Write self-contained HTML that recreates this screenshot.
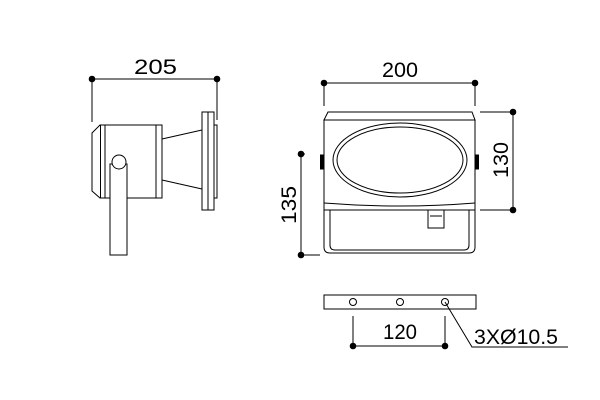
<!DOCTYPE html>
<html><head><style>body{margin:0;background:#fff}svg{display:block}</style></head><body>
<svg width="600" height="400" viewBox="0 0 600 400" xmlns="http://www.w3.org/2000/svg" fill="none" stroke="#000" stroke-width="1">
<g font-family="Liberation Sans, sans-serif" font-size="21" fill="#000" stroke="none" lengthAdjust="spacingAndGlyphs">
<text x="134" y="74" textLength="43" lengthAdjust="spacingAndGlyphs">205</text>
<text x="382" y="77" textLength="36" lengthAdjust="spacingAndGlyphs">200</text>
<text x="383" y="339" textLength="34" lengthAdjust="spacingAndGlyphs">120</text>
<text x="474" y="344" textLength="84" lengthAdjust="spacingAndGlyphs">3XØ10.5</text>
<text transform="translate(508,178) rotate(-90)" textLength="36" lengthAdjust="spacingAndGlyphs">130</text>
<text transform="translate(296,224) rotate(-90)" textLength="38" lengthAdjust="spacingAndGlyphs">135</text>
</g>
<g fill="#000" stroke="none">
<circle cx="92" cy="79" r="3.3"/><circle cx="217" cy="79" r="3.3"/>
<circle cx="324" cy="83" r="3.3"/><circle cx="475" cy="83" r="3.3"/>
<circle cx="513" cy="112" r="3.3"/><circle cx="513" cy="210" r="3.3"/>
<circle cx="301" cy="154" r="3.3"/><circle cx="301" cy="255" r="3.3"/>
<circle cx="353" cy="346" r="3.3"/><circle cx="445" cy="346" r="3.3"/>
</g>
<path d="M92 79H217M92 79V122M217 79V120"/>
<path d="M100 125H162V198H100L92 191V133Z"/>
<path d="M100.5 125V198M105 125V198M156 125V198"/>
<path d="M162 139L202 130M162 180L202 189"/>
<rect x="202" y="112" width="12" height="98"/>
<path d="M208 112V210"/>
<rect x="214" y="125" width="3" height="73"/>
<rect x="110" y="164" width="17" height="91" fill="#fff"/>
<circle cx="119" cy="162" r="7" fill="#fff"/>
<path d="M324 83H475M324 83V106M475 83V106"/>
<path d="M324 120L328 112H472L475 120Z"/>
<path d="M324 120H475V247Q475 253 469 253H330Q324 253 324 247Z"/>
<path d="M324 203Q400 209 475 203M324 210H475"/>
<path d="M330 210V245Q330 250 335 250H464Q469 250 469 245V210"/>
<ellipse cx="400" cy="160" rx="67" ry="37"/>
<ellipse cx="400" cy="160" rx="63" ry="33"/>
<rect x="320.5" y="155" width="3" height="14" fill="#000"/>
<rect x="475.5" y="155" width="3" height="14" fill="#000"/>
<path d="M428 210V228H444V210M430 216H442"/>
<path d="M480 112H513V210H480M305 154H301V255H320"/>
<rect x="324" y="295" width="152" height="14"/>
<circle cx="353" cy="302" r="3.5"/><circle cx="400" cy="302" r="3.5"/><circle cx="445" cy="302" r="3.5"/>
<path d="M353 316V346H445V316M445 302L472 347H568"/>
</svg>
</body></html>
